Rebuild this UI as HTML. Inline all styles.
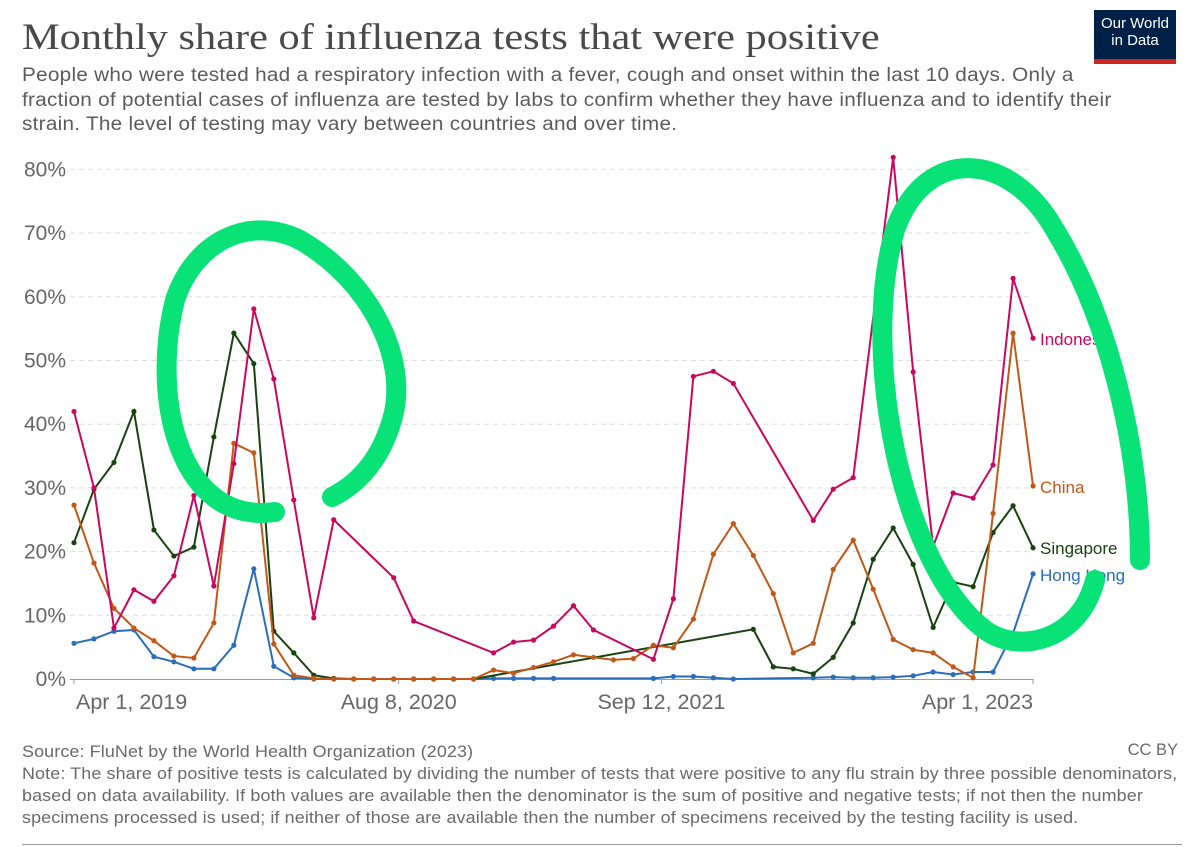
<!DOCTYPE html>
<html><head><meta charset="utf-8">
<style>
body{margin:0;background:#fff;width:1200px;height:847px;overflow:hidden;font-family:"Liberation Sans",sans-serif}
.t{position:absolute;left:22px;top:16px;font-family:"Liberation Serif",serif;font-size:37px;color:#4a4a4a;white-space:nowrap;transform:scaleX(1.145);transform-origin:0 0}
.s{position:absolute;left:22px;top:64px;font-size:19px;line-height:24.5px;color:#5b5b5b;white-space:nowrap;transform:scaleX(1.09);transform-origin:0 0;letter-spacing:0.25px}
.f{position:absolute;left:22px;top:741px;font-size:16.5px;line-height:22px;color:#6a6a6a;white-space:nowrap;letter-spacing:0.1px;transform:scaleX(1.087);transform-origin:0 0}
.cc{position:absolute;right:22px;top:741px;font-size:16.5px;color:#6a6a6a}
.logo{position:absolute;left:1094px;top:10px;width:82px;height:54px;background:#002147;color:#fff;font-size:15px;line-height:17px;text-align:center;padding-top:5px;box-sizing:border-box}
.logo:after{content:"";position:absolute;left:0;bottom:0;width:100%;height:5px;background:#ce261e}
</style></head><body>
<div class="t">Monthly share of influenza tests that were positive</div>
<div class="s">People who were tested had a respiratory infection with a fever, cough and onset within the last 10 days. Only a<br>fraction of potential cases of influenza are tested by labs to confirm whether they have influenza and to identify their<br>strain. The level of testing may vary between countries and over time.</div>
<div class="logo">Our World<br>in Data</div>
<svg id="c" width="1200" height="847" style="position:absolute;left:0;top:0"></svg>
<div class="f">Source: FluNet by the World Health Organization (2023)<br>Note: The share of positive tests is calculated by dividing the number of tests that were positive to any flu strain by three possible denominators,<br>based on data availability. If both values are available then the denominator is the sum of positive and negative tests; if not then the number<br>specimens processed is used; if neither of those are available then the number of specimens received by the testing facility is used.</div>
<div class="cc">CC BY</div>
<div style="position:absolute;left:22px;top:844px;width:1160px;height:1px;background:#999"></div>
<script>
const yTicks=[0,10,20,30,40,50,60,70,80];
const xTickLabels=["Apr 1, 2019","Aug 8, 2020","Sep 12, 2021","Apr 1, 2023"];
const xTickMonths=[0,16.25,29.4,48];
const indonesiaMonths=[0,1,2,3,4,5,6,7,8,9,10,11,12,13,16,17,21,22,23,24,25,26,29,30,31,32,33,37,38,39,41,42,43,44,45,46,47,48];
const indonesiaValues=[42,30,8,14,12.2,16.2,28.8,14.6,33.8,58.1,47.1,28.1,9.6,25,15.9,9.1,4.1,5.8,6.1,8.3,11.5,7.7,3.1,12.6,47.5,48.3,46.4,24.9,29.8,31.6,81.9,48.2,20.8,29.2,28.4,33.6,62.9,53.5];
const chinaMonths=[0,1,2,3,4,5,6,7,8,9,10,11,12,13,14,15,16,17,18,19,20,21,22,23,24,25,26,27,28,29,30,31,32,33,34,35,36,37,38,39,40,41,42,43,44,45,46,47,48];
const chinaValues=[27.3,18.2,11.1,8,6,3.6,3.3,8.8,37,35.5,5.5,0.6,0.1,0,0,0,0,0,0,0,0,1.4,0.9,1.8,2.7,3.8,3.4,3,3.2,5.3,4.9,9.4,19.6,24.4,19.4,13.4,4.1,5.6,17.2,21.8,14.1,6.2,4.6,4.1,1.9,0.2,26,54.3,30.3];
const singaporeMonths=[0,1,2,3,4,5,6,7,8,9,10,11,12,13,14,15,16,17,18,19,20,34,35,36,37,38,39,40,41,42,43,44,45,46,47,48];
const singaporeValues=[21.4,29.8,34,42,23.4,19.3,20.7,38,54.3,49.5,7.5,4.1,0.6,0.1,0,0,0,0,0,0,0,7.8,1.9,1.6,0.8,3.4,8.8,18.8,23.7,18,8.1,15.2,14.5,23,27.2,20.6];
const hongKongMonths=[0,1,2,3,4,5,6,7,8,9,10,11,12,13,14,15,16,17,18,19,20,21,22,23,24,29,30,31,32,33,37,38,39,40,41,42,43,44,45,46,47,48];
const hongKongValues=[5.6,6.3,7.5,7.7,3.5,2.7,1.6,1.6,5.3,17.3,2,0.2,0,0,0,0,0,0,0,0,0,0.1,0.1,0.1,0.1,0.1,0.4,0.4,0.2,0,0.2,0.3,0.2,0.2,0.3,0.5,1.1,0.7,1.1,1.1,7.2,16.5];
const seriesNames=["Indonesia","China","Singapore","Hong Kong"];
const NS="http://www.w3.org/2000/svg",svg=document.getElementById('c');
const X=m=>74+m*19.98, Y=v=>679-v*6.37;
function mk(t,a){const e=document.createElementNS(NS,t);for(const k in a)e.setAttribute(k,a[k]);svg.appendChild(e);return e;}
yTicks.forEach(v=>{
  if(v>0){const g=mk('line',{x1:70,x2:1033,y1:Y(v),y2:Y(v),stroke:'#ddd','stroke-dasharray':'5,4'});
  
  }
  const t=mk('text',{x:66,y:Y(v)+7,'text-anchor':'end','font-size':21,fill:'#666'});t.textContent=v+'%';
  
  
});
const ax=mk('line',{x1:70,x2:1033,y1:679.5,y2:679.5,stroke:'#999'});


xTickLabels.forEach((l,i)=>{
  const x=X(xTickMonths[i]);
  const tk=mk('line',{x1:x,x2:x,y1:679,y2:684,stroke:'#999'});
  
  
  const anc=i==0?'start':(i==xTickLabels.length-1?'end':'middle');
  const t=mk('text',{x:i==0?x+2:x,y:709,'text-anchor':anc,'font-size':21.5,fill:'#666'});t.textContent=l;
  
  
});
const S=[[hongKongMonths,hongKongValues,'#2a6ebb',3],[singaporeMonths,singaporeValues,'#18420f',2],[chinaMonths,chinaValues,'#c05917',1],[indonesiaMonths,indonesiaValues,'#c9075f',0]];
const labelY={0:339,1:487,2:548,3:575};
S.forEach(([ms,vs,c,k])=>{
  const p=mk('polyline',{points:ms.map((m,i)=>X(m)+','+Y(vs[i])).join(' '),fill:'none',stroke:c,'stroke-width':2});
  
  
  ms.forEach((m,i)=>{const d=mk('circle',{cx:X(m),cy:Y(vs[i]),r:2.6,fill:c});
    
    });
  const t=mk('text',{x:1040,y:labelY[k]+6,'font-size':17,fill:c});t.textContent=seriesNames[k];
  
  
});
const a1=mk('path',{d:'M275,512 C180,525 150,400 175,300 C195,240 250,215 300,240 C370,280 410,360 392,420 C378,468 350,488 332,497',fill:'none',stroke:'#08e277','stroke-width':20,'stroke-linecap':'round'});


const a2=mk('path',{d:'M1095,580 C1080,640 1020,655 985,630 C900,565 860,350 895,230 C925,145 1010,150 1055,230 C1110,320 1140,450 1140,560',fill:'none',stroke:'#08e277','stroke-width':20,'stroke-linecap':'round'});


</script>
</body></html>
